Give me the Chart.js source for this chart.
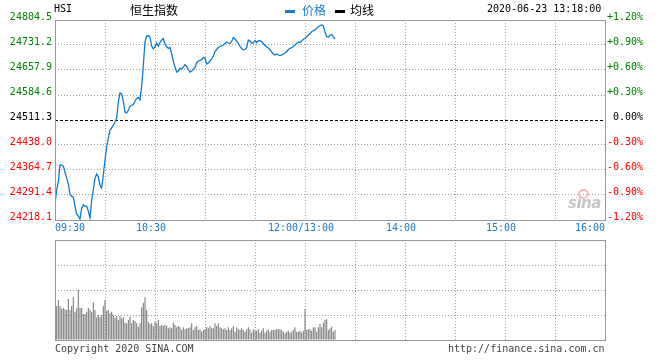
<!DOCTYPE html>
<html><head><meta charset="utf-8">
<script src="https://cdn.jsdelivr.net/npm/chart.js@4.4.1/dist/chart.umd.min.js"></script>
<style>
html,body{margin:0;padding:0;background:#fff;}
#wrap{position:relative;width:660px;height:360px;overflow:hidden;background:#fff;}
canvas{position:absolute;left:0;}
.t{position:absolute;white-space:nowrap;font-family:"DejaVu Sans Mono",monospace;font-size:10px;line-height:10px;color:#000;}
.cjk{position:absolute;white-space:nowrap;font-family:"Noto Sans CJK SC",sans-serif;font-size:12px;line-height:12px;}
</style></head><body>
<div id="wrap">
<canvas id="main" width="660" height="240" style="top:0;width:660px;height:240px"></canvas>
<canvas id="vol" width="660" height="110" style="top:235px;width:660px;height:110px"></canvas>
<div class="t" style="left:54px;top:4px">HSI</div>
<div class="cjk" style="left:130px;top:4px;color:#000">恒生指数</div>
<div style="position:absolute;left:285px;top:10px;width:10px;height:3px;background:#1a7acc"></div>
<div class="cjk" style="left:302px;top:4px;color:#1a7acc">价格</div>
<div style="position:absolute;left:335px;top:10px;width:10px;height:3px;background:#000"></div>
<div class="cjk" style="left:350px;top:4px;color:#000">均线</div>
<div class="t" style="left:487px;top:4px">2020-06-23 13:18:00</div>
<div style="position:absolute;left:578px;top:189px;width:7px;height:6px;border:2px solid #f4c0c0;border-radius:50%"></div>
<div style="position:absolute;left:568px;top:196px;font:italic bold 15px 'DejaVu Sans',sans-serif;line-height:15px;color:#c6c6c6;letter-spacing:-0.5px">sina</div>
<div class="t" style="left:55px;top:344px;color:#444">Copyright 2020 SINA.COM</div>
<div class="t" style="left:448px;top:344px;color:#444">http://finance.sina.com.cn</div>
</div>
<script>
// ---- data (index = trading minute since 09:30; 12:00 and 13:00 share minute 150) ----
const PREV_CLOSE = 24511.3;
const PRICE_TICKS = [24804.5, 24731.2, 24657.9, 24584.6, 24511.3, 24438.0, 24364.7, 24291.4, 24218.1];
const PCT_TICKS = [1.2, 0.9, 0.6, 0.3, 0, -0.3, -0.6, -0.9, -1.2];
const TIME_TICK_MIN = [0, 60, 150, 210, 270, 330];
const TIME_TICK_LABELS = ['09:30', '10:30', '12:00/13:00', '14:00', '15:00', '16:00'];
const GRID_MIN = [0,30,60,90,120,150,180,210,240,270,300,330];
const VOL_TICKS = [0, 25, 50, 75, 100];

const PRICES = [
24265.0,24306.0,24329.5,24379.4,24379.0,24376.0,24358.8,24341.0,24323.6,24294.0,
24288.0,24285.0,24259.0,24235.7,24229.8,24221.0,24253.0,24262.0,24259.0,24259.0,
24244.5,24224.0,24276.8,24306.0,24341.0,24353.0,24344.0,24320.7,24312.0,24350.0,
24394.0,24432.0,24458.5,24482.0,24487.8,24496.6,24505.4,24517.0,24564.0,24590.5,
24587.5,24567.0,24534.8,24531.8,24540.6,24550.9,24555.0,24556.7,24567.0,24574.3,
24577.3,24570.0,24611.0,24672.6,24740.0,24757.6,24759.0,24754.7,24728.0,24719.5,
24725.3,24737.0,24728.0,24738.5,24745.9,24750.3,24734.0,24726.0,24721.5,24723.7,
24704.8,24684.0,24666.7,24652.0,24655.0,24662.9,24661.0,24666.7,24674.0,24667.6,
24659.4,24652.0,24655.0,24659.4,24665.2,24679.3,24684.3,24686.3,24688.7,24694.6,
24693.0,24675.5,24678.4,24684.3,24690.2,24699.0,24712.1,24718.0,24723.9,24726.8,
24728.3,24731.2,24735.6,24740.0,24737.0,24735.6,24741.5,24753.2,24748.8,24743.0,
24735.6,24726.8,24720.9,24716.5,24718.0,24723.9,24745.9,24743.0,24737.0,24737.0,
24744.4,24738.5,24743.0,24743.8,24741.5,24735.6,24729.7,24726.0,24722.4,24718.0,
24710.7,24704.8,24701.9,24704.8,24701.9,24700.4,24701.9,24704.8,24707.7,24711.6,
24718.0,24720.9,24723.3,24726.8,24731.2,24736.2,24739.4,24738.5,24743.0,24747.9,
24750.3,24755.6,24760.0,24765.0,24770.0,24773.7,24775.2,24780.2,24784.0,24788.4,
24789.9,24787.0,24769.3,24755.6,24753.8,24760.5,24762.0,24754.7,24748.8
];

// volume, relative units (axis 0..100)
const VOLUMES = [
36,34,40,34,31,32,30.7,30,41,30,
34,42.7,28.3,31.7,50,32,32,26,26,28.3,
32,30,28.3,37.7,30,22.7,25,22.7,25,34,
40,29.3,30,26.7,28.3,25,22.3,24,20,24,
21.7,22.7,17.3,16.7,20,23.3,16.7,20,19,16.7,
13.3,16.7,32.7,37.3,42.7,30,18.3,16,16.7,14,
18.3,16.7,20,14,15,14,15,14,11.7,12.7,
11.7,17.3,15,12.7,14,12.7,10,12.7,10.7,11.7,
11.7,12.7,16.7,10,12.7,14,10,10.7,8.3,10,
10.7,12.7,11.7,14,11.7,11.7,16.7,14,16.7,12.7,
11.7,10.7,11.7,10,12.7,10,11.7,14,8.3,12.7,
10.7,10,11.7,10,8.3,10.7,12.7,10.7,7.3,10.7,
9.3,9.3,10.7,7.3,9.3,11.7,7.3,9.3,10.7,8.3,
10,10,10,10.7,10.7,10.7,10,8.3,6.7,8.3,
9.3,7.3,8.3,10,12.7,8.3,8.3,9.3,7.3,9.3,
31,10,10.7,10.7,9.3,12.7,12.7,8.3,12.7,16,
12.7,17.3,20,21,10,11.7,13.3,8.3,10
];

const MONO = '"DejaVu Sans Mono", monospace';
const BLUE = '#0f7bcf';
const LBLUE = '#1a7acc';
const GRID = '#a0a0a0';
const BORDER = '#999999';

function levelColor(delta){
  if (delta > 1e-6) return '#008000';
  if (delta < -1e-6) return '#ff0000';
  return '#000000';
}

const frame = {
  id: 'frame',
  afterDraw(chart){
    const {ctx, chartArea:a} = chart;
    ctx.save();
    ctx.strokeStyle = BORDER; ctx.lineWidth = 1; ctx.setLineDash([]);
    ctx.strokeRect(Math.round(a.left)+0.5, Math.round(a.top)+0.5,
                   Math.round(a.right-a.left), Math.round(a.bottom-a.top));
    ctx.restore();
  }
};

const mainDecor = {
  id: 'mainDecor',
  beforeDatasetsDraw(chart){
    const {ctx, chartArea:a, scales} = chart;
    const y = Math.round(scales.y.getPixelForValue(PREV_CLOSE)) + 0.5;
    ctx.save();
    ctx.strokeStyle = '#000'; ctx.lineWidth = 1; ctx.setLineDash([3,2]);
    ctx.beginPath(); ctx.moveTo(a.left, y); ctx.lineTo(a.right, y); ctx.stroke();
    ctx.restore();
  },
  afterDraw(chart){
    const {ctx, chartArea:a, scales} = chart;
    ctx.save();
    ctx.font = '10px ' + MONO;
    ctx.fillStyle = LBLUE;
    ctx.textBaseline = 'middle';
    const n = TIME_TICK_MIN.length;
    TIME_TICK_MIN.forEach((m, i) => {
      const px = scales.x.getPixelForValue(m);
      let x = px, align = 'center';
      if (i === 0) { align = 'left'; }
      else if (i === n-1) { align = 'right'; }
      else { x = px - 4; }
      ctx.textAlign = align;
      ctx.fillText(TIME_TICK_LABELS[i], x, a.bottom + 8);
    });
    ctx.restore();
  }
};

new Chart(document.getElementById('main'), {
  type: 'line',
  data: {
    datasets: [{
      label: '价格',
      data: PRICES.map((p, i) => ({x: i, y: p})),
      borderColor: BLUE, borderWidth: 1.3, pointRadius: 0, tension: 0,
      fill: false, xAxisID: 'x', yAxisID: 'y'
    }]
  },
  options: {
    responsive: false, animation: false, devicePixelRatio: 1,
    layout: {padding: {top: 20, left: 0, right: 17, bottom: 0}, autoPadding: false},
    plugins: {legend: {display: false}, tooltip: {enabled: false}},
    scales: {
      x: {
        type: 'linear', min: 0, max: 330,
        afterBuildTicks: s => { s.ticks = GRID_MIN.map(v => ({value: v})); },
        afterFit: s => { s.height = 20; },
        ticks: {display: false},
        grid: {color: GRID, lineWidth: 1, drawTicks: false},
        border: {display: false, dash: [1,2]}
      },
      y: {
        type: 'linear', position: 'left', min: PRICE_TICKS[PRICE_TICKS.length-1], max: PRICE_TICKS[0],
        afterBuildTicks: s => { s.ticks = PRICE_TICKS.map(v => ({value: v})); },
        afterFit: s => { s.width = 55; },
        ticks: {
          font: {family: MONO, size: 10}, padding: 3, labelOffset: -3,
          color: c => levelColor(c.tick.value - PREV_CLOSE),
          callback: v => Number(v).toFixed(1)
        },
        grid: {color: c => (Math.abs(c.tick.value - PREV_CLOSE) < 1e-6 ? 'rgba(0,0,0,0)' : GRID), lineWidth: 1, drawTicks: false},
        border: {display: false, dash: [1,2]}
      },
      yPct: {
        type: 'linear', position: 'right', min: -1.2, max: 1.2,
        afterBuildTicks: s => { s.ticks = PCT_TICKS.map(v => ({value: v})); },
        afterFit: s => { s.width = 38; },
        ticks: {
          font: {family: MONO, size: 10}, padding: 2, labelOffset: -3, crossAlign: 'far',
          color: c => levelColor(c.tick.value),
          callback: v => (v > 1e-9 ? '+' : '') + (Math.abs(v) < 1e-9 ? 0 : v).toFixed(2) + '%'
        },
        grid: {display: false, drawTicks: false},
        border: {display: false}
      }
    }
  },
  plugins: [mainDecor, frame]
});

new Chart(document.getElementById('vol'), {
  type: 'bar',
  data: {
    datasets: [{
      label: '成交量',
      data: VOLUMES.map((v, i) => ({x: i, y: v})),
      backgroundColor: '#7e7e7e', borderWidth: 0, barThickness: 1.1, inflateAmount: 0, grouped: false
    }]
  },
  options: {
    responsive: false, animation: false, devicePixelRatio: 1,
    layout: {padding: {top: 5, left: 55, right: 55, bottom: 5}, autoPadding: false},
    plugins: {legend: {display: false}, tooltip: {enabled: false}},
    scales: {
      x: {
        type: 'linear', min: 0, max: 330, offset: false,
        afterBuildTicks: s => { s.ticks = GRID_MIN.map(v => ({value: v})); },
        afterFit: s => { s.height = 0; },
        ticks: {display: false},
        grid: {color: GRID, lineWidth: 1, drawTicks: false, offset: false},
        border: {display: false, dash: [1,2]}
      },
      y: {
        type: 'linear', min: 0, max: 100,
        afterBuildTicks: s => { s.ticks = VOL_TICKS.map(v => ({value: v})); },
        afterFit: s => { s.width = 0; },
        ticks: {display: false},
        grid: {color: GRID, lineWidth: 1, drawTicks: false},
        border: {display: false, dash: [1,2]}
      }
    }
  },
  plugins: [frame]
});
</script>
</body></html>
